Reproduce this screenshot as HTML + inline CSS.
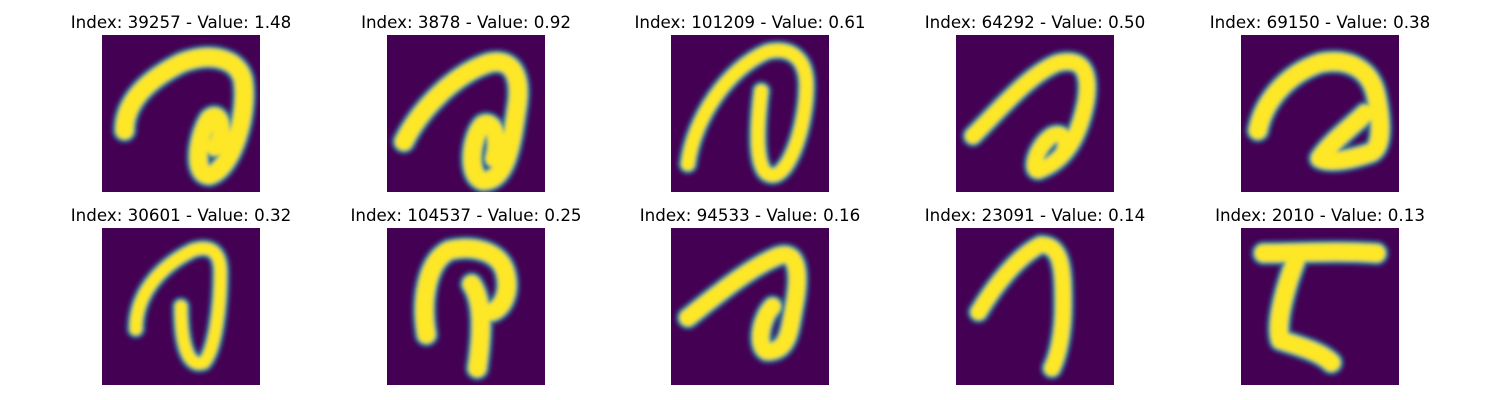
<!DOCTYPE html>
<html><head><meta charset="utf-8"><style>
html,body{margin:0;padding:0;background:#fff;width:1500px;height:400px;overflow:hidden}
#c{position:relative;width:1500px;height:400px}
.t{position:absolute;font:16.7px "DejaVu Sans","Liberation Sans",sans-serif;color:#000;white-space:nowrap;transform:translateX(-50%)}
svg.im{position:absolute;width:158px;height:157px}
</style></head><body>
<div id="c"></div>
<script>
const indices=[39257,3878,101209,64292,69150,30601,104537,94533,23091,2010];
const values=[1.48,0.92,0.61,0.50,0.38,0.32,0.25,0.16,0.14,0.13];
const shapes=[
"M4,17 C4,12 8,8 14,5 C19,3 24,4 25,8 C26,14 23,24 19,25 C16,25 17,18 19,15 C21,13 22,18 20,20",
"M3,19 C6,13 12,7 18,5 C22,4 24,7 23,13 C22,20 21,26 17,26 C14,25 15,18 17,16 C19,15 20,19 19,22",
"M3,23 C4,15 10,6 17,3 C21,2 24,4 24,9 C24,16 21,25 18,25 C15,25 15,18 16,10",
"M3,18 C8,13 13,7 18,5 C22,4 24,6 23,12 C22,17 20,22 15,24 C13,25 14,20 17,18 C19,17 20,19 19,21",
"M3,17 C4,12 8,7 14,5 C19,4 23,6 24,11 C25,16 25,20 23,21 C20,22 16,23 14,22 C16,19 20,16 22,14",
"M6,18 C6,12 10,7 16,4 C19,3 21,4 21,8 C21,14 20,22 18,24 C15,25 14,20 14,14",
"M7,19 C6,13 7,6 11,4 C15,3 20,4 21,8 C22,12 20,15 18,15 M15,10 C17,13 17,18 16,25",
"M3,16 C8,12 14,7 19,5 C22,4 23,7 22,13 C21,18 21,22 17,22 C15,21 16,16 18,14",
"M4,15 C7,10 11,5 15,3 C19,3 19,8 19,14 C19,19 18,23 17,25",
"M4,4.5 C10,4.5 17,4 24,4.5 M10,5 C8,10 6,17 7,20 C10,21 14,22 16,24"
];
const widths=[3,3,2.2,2.6,3,2,3,2.8,2.6,3];
const colX=[181,466,750,1035,1320];
const rowY=[35,228];
const c=document.getElementById('c');
const NS='http://www.w3.org/2000/svg';
for(let i=0;i<indices.length;i++){
  const col=i%5,row=Math.floor(i/5);
  const t=document.createElement('div');
  t.className='t';
  t.style.left=colX[col]+'px';
  t.style.top=(rowY[row]-23)+'px';
  t.textContent='Index: '+indices[i]+' - Value: '+values[i].toFixed(2);
  
  
  c.appendChild(t);
  const s=document.createElementNS(NS,'svg');
  s.setAttribute('class','im');
  s.setAttribute('viewBox','0 0 28 28');
  s.setAttribute('preserveAspectRatio','none');
  s.style.left=(colX[col]-79)+'px';
  s.style.top=rowY[row]+'px';
  
  
  s.innerHTML='<defs><filter id="b'+i+'" x="-20%" y="-20%" width="140%" height="140%"><feGaussianBlur stdDeviation="0.35"/></filter></defs>'+
   '<rect width="28" height="28" fill="#440154"/>'+
   '<g filter="url(#b'+i+')" fill="none" stroke-linecap="round" stroke-linejoin="round">'+
   '<path d="'+shapes[i]+'" stroke="#3b528b" stroke-width="'+(widths[i]+1.6)+'"/>'+
   '<path d="'+shapes[i]+'" stroke="#21918c" stroke-width="'+(widths[i]+0.8)+'"/>'+
   '<path d="'+shapes[i]+'" stroke="#fde725" stroke-width="'+widths[i]+'"/></g>';
  c.appendChild(s);
}
</script>
</body></html>
